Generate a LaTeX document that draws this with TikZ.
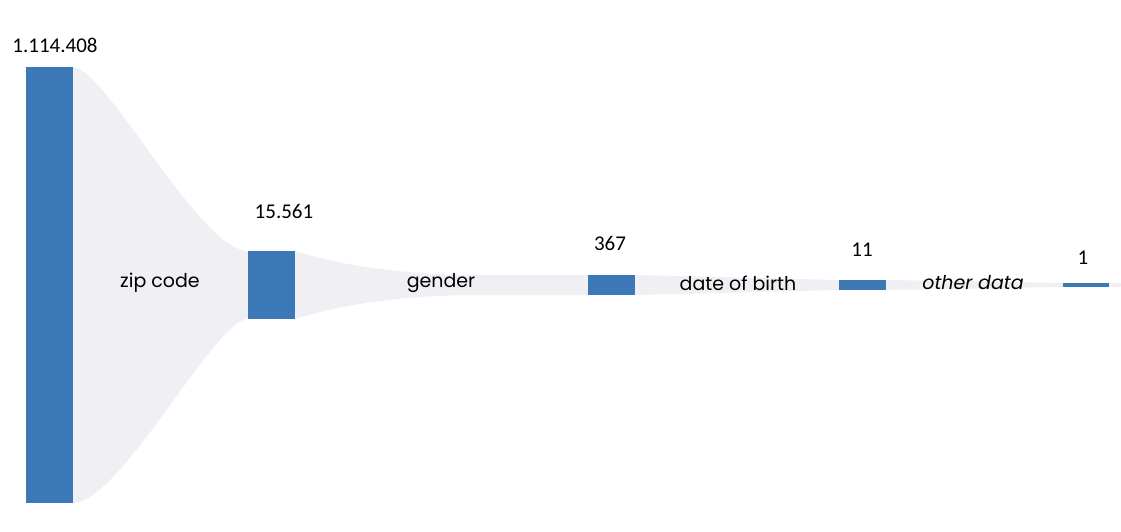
\documentclass[tikz,border=0pt]{standalone}
\usepackage{fontspec}
\setmainfont{Carlito}
\newfontfamily\lblfont{Poppins}
\definecolor{barblue}{HTML}{3C78B5}
\definecolor{flowgray}{HTML}{F0F0F4}
\begin{document}
\begin{tikzpicture}[x=1pt,y=-1pt,
  bar/.style={fill=barblue,draw=none,inner sep=0pt,outer sep=0pt,rectangle},
  flow/.style={fill=flowgray,draw=none},
  num/.style={font=\fontsize{21}{23}\selectfont,inner sep=0pt},
  lbl/.style={font=\lblfont\fontsize{19}{22}\selectfont,inner sep=0pt}]
\useasboundingbox (0,0) rectangle (1121,532);
% bars (nodes)
\node[bar,minimum width=47pt,minimum height=436pt] (bar1) at (49.5,285) {};
\node[bar,minimum width=47pt,minimum height=68pt] (bar2) at (271.5,285) {};
\node[bar,minimum width=47pt,minimum height=20pt] (bar3) at (611.5,285) {};
\node[bar,minimum width=47pt,minimum height=10pt] (bar4) at (862.5,285) {};
\node[bar,minimum width=46pt,minimum height=4pt] (bar5) at (1086,285) {};
\coordinate (endtop) at (1121,283.3);
\coordinate (endbot) at (1121,286.7);
\coordinate (g1) at (480,275);
\coordinate (g2) at (480,295);
% flows
\path[flow] (bar1.north east) .. controls +(32,0) and +(-48,0) .. (bar2.north west) -- (bar2.south west)
  .. controls +(-33,0) and +(47,0) .. (bar1.south east) -- cycle;
\path[flow] (bar2.north east) .. controls +(45,14) and +(-80,0) .. (g1) -- (bar3.north west)
  -- (bar3.south west) -- (g2) .. controls +(-80,0) and +(45,-14) .. (bar2.south east) -- cycle;
\path[flow] (bar3.north east) -- (bar4.north west) -- (bar4.south west) -- (bar3.south east) -- cycle;
\path[flow] (bar4.north east) -- (bar5.north west) -- (bar5.south west) -- (bar4.south east) -- cycle;
\path[flow] (bar5.north east) -- (endtop) -- (endbot) -- (bar5.south east) -- cycle;
% redraw bars on top
\foreach \b in {bar1,bar2,bar3,bar4,bar5}{\fill[barblue] (\b.north west) rectangle (\b.south east);}
% numbers
\node[num] (n1) at (55,45) {1.114.408};
\node[num] (n2) at (284,211) {15.561};
\node[num] (n3) at (610,243) {367};
\node[num] (n4) at (862,250) {11};
\node[num] (n5) at (1083,258) {1};
% labels
\node[lbl] (l1) at (160,283) {zip code};
\node[lbl] (l2) at (441,283) {gender};
\node[lbl] (l3) at (738,283) {date of birth};
\node[lbl] (l4) at (973,283) {\itshape other data};
\end{tikzpicture}
\end{document}
